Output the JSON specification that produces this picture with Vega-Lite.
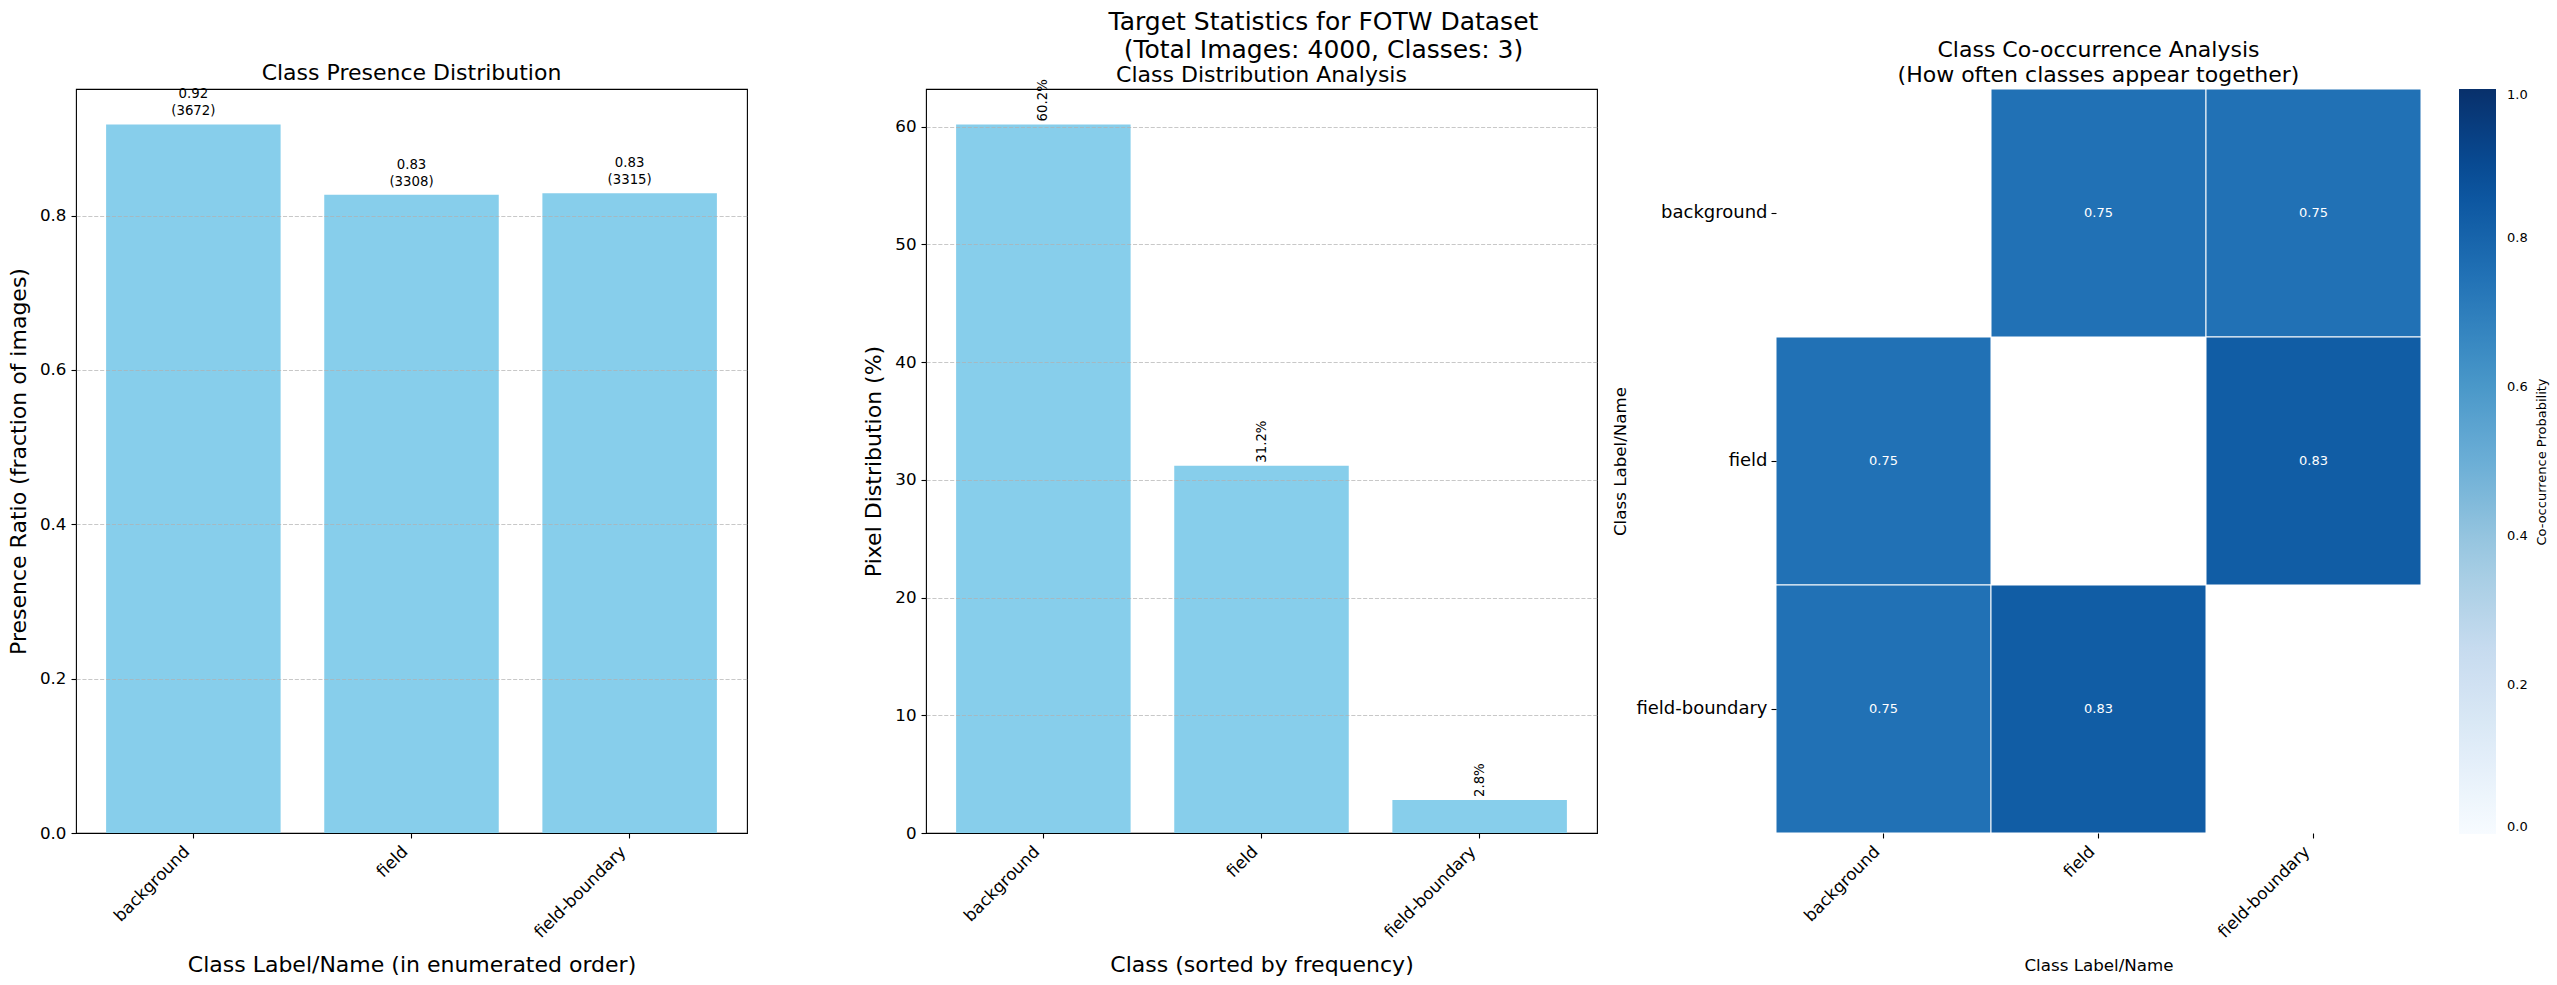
{
  "$schema": "https://vega.github.io/schema/vega-lite/v6.json",
  "padding": {"left": 6, "top": 9, "right": 5, "bottom": 5},
  "background": "white",
  "title": {
    "text": ["Target Statistics for FOTW Dataset", "(Total Images: 4000, Classes: 3)"],
    "fontSize": 25,
    "lineHeight": 28,
    "anchor": "middle",
    "dx": 45,
    "offset": -24
  },
  "spacing": 179,
  "bounds": "flush",
  "hconcat": [
    {
      "width": 671,
      "height": 744,
      "title": {"text": "Class Presence Distribution", "fontSize": 22, "offset": 2},
      "data": {
        "values": [
          {"cls": "background", "ratio": 0.918, "ratio_label": "0.92", "count_label": "(3672)"},
          {"cls": "field", "ratio": 0.827, "ratio_label": "0.83", "count_label": "(3308)"},
          {"cls": "field-boundary", "ratio": 0.82875, "ratio_label": "0.83", "count_label": "(3315)"}
        ]
      },
      "encoding": {
        "x": {
          "field": "cls", "type": "nominal", "sort": null,
          "scale": {"paddingInner": 0.2, "paddingOuter": 0.138},
          "axis": {
            "title": "Class Label/Name (in enumerated order)",
            "labelAngle": -45, "labelAlign": "right", "labelBaseline": "top",
            "labelOffset": -12, "labelPadding": 5, "tickSize": 5,
            "domain": true, "domainColor": "black", "domainWidth": 1.1, "zindex": 1, "titlePadding": 14
          }
        },
        "y": {
          "field": "ratio", "type": "quantitative",
          "scale": {"domain": [0, 0.9639], "nice": false, "zero": true},
          "axis": {
            "title": "Presence Ratio (fraction of images)",
            "values": [0, 0.2, 0.4, 0.6, 0.8], "format": ".1f",
            "grid": true, "gridDash": [4.1, 1.8], "gridColor": "#b0b0b0",
            "gridOpacity": {"condition": {"test": "datum.value === 0", "value": 0}, "value": 0.7},
            "gridWidth": 1.1,
            "domain": false, "tickSize": 5, "labelPadding": 5, "titlePadding": 9, "zindex": 1
          }
        }
      },
      "layer": [
        {"mark": {"type": "bar", "color": "#87ceeb"}},
        {
          "mark": {"type": "text", "baseline": "alphabetic", "dy": -26, "fontSize": 13.3, "color": "black"},
          "encoding": {"text": {"field": "ratio_label"}}
        },
        {
          "mark": {"type": "text", "baseline": "alphabetic", "dy": -9, "fontSize": 13.3, "color": "black"},
          "encoding": {"text": {"field": "count_label"}}
        }
      ]
    },
    {
      "width": 671,
      "height": 744,
      "title": {"text": "Class Distribution Analysis", "fontSize": 22, "offset": 2, "dy": 10},
      "data": {
        "values": [
          {"cls": "background", "pct": 60.2, "label": "60.2%"},
          {"cls": "field", "pct": 31.2, "label": "31.2%"},
          {"cls": "field-boundary", "pct": 2.8, "label": "2.8%"}
        ]
      },
      "encoding": {
        "x": {
          "field": "cls", "type": "nominal", "sort": null,
          "scale": {"paddingInner": 0.2, "paddingOuter": 0.138},
          "axis": {
            "title": "Class (sorted by frequency)",
            "labelAngle": -45, "labelAlign": "right", "labelBaseline": "top",
            "labelOffset": -12, "labelPadding": 5, "tickSize": 5,
            "domain": true, "domainColor": "black", "domainWidth": 1.1, "zindex": 1, "titlePadding": 14
          }
        },
        "y": {
          "field": "pct", "type": "quantitative",
          "scale": {"domain": [0, 63.21], "nice": false, "zero": true},
          "axis": {
            "title": "Pixel Distribution (%)",
            "values": [0, 10, 20, 30, 40, 50, 60], "format": "d",
            "grid": true, "gridDash": [4.1, 1.8], "gridColor": "#b0b0b0",
            "gridOpacity": {"condition": {"test": "datum.value === 0", "value": 0}, "value": 0.7},
            "gridWidth": 1.1,
            "domain": false, "tickSize": 5, "labelPadding": 5, "titlePadding": 9, "zindex": 1
          }
        }
      },
      "layer": [
        {"mark": {"type": "bar", "color": "#87ceeb"}},
        {
          "mark": {"type": "text", "angle": 270, "align": "left", "baseline": "middle", "dx": 3, "fontSize": 13.3, "color": "black"},
          "encoding": {"text": {"field": "label"}}
        }
      ]
    },
    {
      "width": 645,
      "height": 744,
      "view": {"stroke": null},
      "title": {"text": ["Class Co-occurrence Analysis", "(How often classes appear together)"], "fontSize": 22, "lineHeight": 25, "offset": 2},
      "data": {
        "values": [
          {"row": "background", "col": "field", "value": 0.75},
          {"row": "background", "col": "field-boundary", "value": 0.75},
          {"row": "field", "col": "background", "value": 0.75},
          {"row": "field", "col": "field-boundary", "value": 0.83},
          {"row": "field-boundary", "col": "background", "value": 0.75},
          {"row": "field-boundary", "col": "field", "value": 0.83}
        ]
      },
      "encoding": {
        "x": {
          "field": "col", "type": "nominal",
          "scale": {"domain": ["background", "field", "field-boundary"], "paddingInner": 0, "paddingOuter": 0},
          "axis": {
            "title": "Class Label/Name", "titleFontSize": 16.7,
            "labelAngle": -45, "labelAlign": "right", "labelBaseline": "top",
            "labelOffset": -12, "labelPadding": 5, "tickSize": 5,
            "domain": false, "titlePadding": 17
          }
        },
        "y": {
          "field": "row", "type": "nominal",
          "scale": {"domain": ["background", "field", "field-boundary"], "paddingInner": 0, "paddingOuter": 0},
          "axis": {
            "title": "Class Label/Name", "titleFontSize": 16.7, "labelFontSize": 18,
            "labelAngle": 0, "labelPadding": 4, "tickSize": 5,
            "domain": false, "titlePadding": 6
          }
        }
      },
      "layer": [
        {
          "mark": {"type": "rect", "stroke": "white", "strokeWidth": 1},
          "encoding": {
            "color": {
              "field": "value", "type": "quantitative",
              "scale": {
                "domain": [0, 0.125, 0.25, 0.375, 0.5, 0.625, 0.75, 0.875, 1],
                "range": ["#f7fbff", "#deebf7", "#c6dbef", "#9ecae1", "#6baed6", "#4292c6", "#2171b5", "#08519c", "#08306b"],
                "interpolate": "rgb"
              },
              "legend": {
                "title": "Co-occurrence Probability",
                "orient": "right", "offset": 114, "direction": "vertical",
                "gradientLength": 745, "gradientThickness": 37, "gradientStrokeWidth": 0,
                "values": [0, 0.2, 0.4, 0.6, 0.8, 1], "format": ".1f",
                "labelFontSize": 13, "labelOffset": 11, "labelBaseline": "middle",
                "titleOrient": "left", "titleAnchor": "middle", "titleFontSize": 13,
                "titlePadding": -91, "padding": 0
              }
            }
          }
        },
        {
          "mark": {"type": "text", "color": "white", "fontSize": 13},
          "encoding": {"text": {"field": "value", "type": "quantitative", "format": ".2f"}}
        }
      ]
    }
  ],
  "config": {
    "font": "DejaVu Sans",
    "view": {"stroke": "black", "strokeWidth": 1.1},
    "axis": {
      "labelColor": "black", "tickColor": "black", "titleColor": "black",
      "titleFontWeight": "normal", "titleFontSize": 22, "labelFontSize": 16.7,
      "tickWidth": 1.1, "labelFont": "DejaVu Sans", "titleFont": "DejaVu Sans"
    },
    "title": {"fontWeight": "normal", "color": "black", "font": "DejaVu Sans"},
    "legend": {"labelColor": "black", "titleColor": "black", "titleFontWeight": "normal", "labelFont": "DejaVu Sans", "titleFont": "DejaVu Sans"}
  }
}
